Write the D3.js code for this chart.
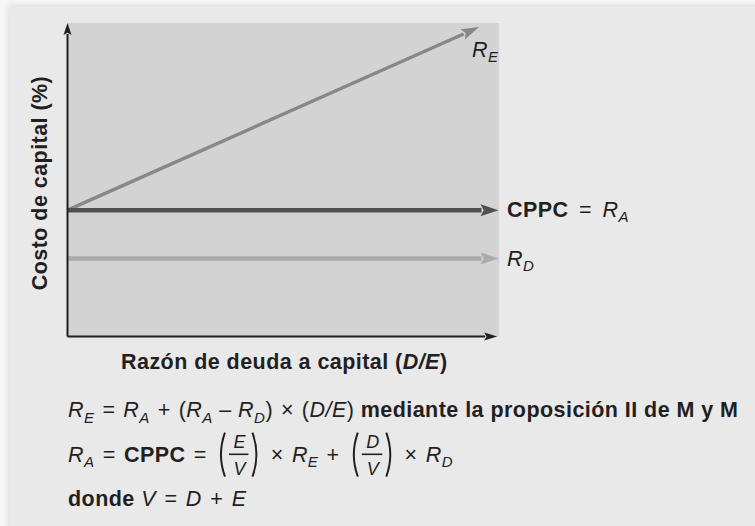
<!DOCTYPE html>
<html>
<head>
  <meta charset="utf-8">
  <script src="https://cdnjs.cloudflare.com/ajax/libs/d3/7.8.5/d3.min.js"></script>
  <style>
    body { margin: 0; background: #f6f6f6; }
    text { font-family: "Liberation Sans", Arial, sans-serif; fill: #231f20; white-space: pre; letter-spacing: 0.45px; }
  </style>
</head>
<body>
  <svg id="chart" width="755" height="526"></svg>
  <script>
    // conceptual units: D/E ratio on x, cost of capital on y
    const xDomain = [0, 10]
    const yDomain = [0, 10]
    const reValues = [[0, 4.03], [9.55, 9.87]]
    const raValues = [[0, 4.03], [10, 4.03]]
    const rdValues = [[0, 2.49], [10, 2.49]]

    const yTitle = "Costo de capital (%)"
    const xTitle = "Razón de deuda a capital ("
    const FS = 21.5

    const svg = d3.select("#chart")

    // panel with soft shadow on top/left
    const defs = svg.append("defs")
    const f = defs.append("filter").attr("id", "shadow").attr("x", "-5%").attr("y", "-5%").attr("width", "110%").attr("height", "110%")
    f.append("feDropShadow").attr("dx", -1).attr("dy", -1).attr("stdDeviation", 3)
      .attr("flood-color", "#000").attr("flood-opacity", 0.12)
    svg.append("rect").attr("x", 10).attr("y", 7).attr("width", 760).attr("height", 540)
      .attr("fill", "#e9e9e9").attr("filter", "url(#shadow)")

    const x = d3.scaleLinear().domain(xDomain).range([67.5, 498.5])
    const y = d3.scaleLinear().domain(yDomain).range([336.5, 23])

    svg.append("rect")
      .attr("x", x(0)).attr("y", y(10))
      .attr("width", x(10) - x(0) + 0.5).attr("height", y(0) - y(10))
      .attr("fill", "#d3d3d3")

    // line with arrowhead at its last point
    function arrowLine(pts, color, width, headLen, headHalf) {
      const x0 = x(pts[0][0]), y0 = y(pts[0][1])
      const x1 = x(pts[1][0]), y1 = y(pts[1][1])
      const ang = Math.atan2(y1 - y0, x1 - x0)
      const bx = x1 - headLen * Math.cos(ang), by = y1 - headLen * Math.sin(ang)
      svg.append("line")
        .attr("x1", x0).attr("y1", y0).attr("x2", bx + Math.cos(ang)).attr("y2", by + Math.sin(ang))
        .attr("stroke", color).attr("stroke-width", width)
      const nx = -Math.sin(ang) * headHalf, ny = Math.cos(ang) * headHalf
      svg.append("path")
        .attr("d", `M${x1},${y1}L${bx + nx},${by + ny}L${bx + headLen * 0.18 * Math.cos(ang)},${by + headLen * 0.18 * Math.sin(ang)}L${bx - nx},${by - ny}Z`)
        .attr("fill", color)
    }

    arrowLine(rdValues, "#aaaaaa", 4.5, 18, 6)
    arrowLine(reValues, "#888888", 3.5, 18, 5.5)
    arrowLine(raValues, "#505050", 4.5, 18, 6)

    // axes
    arrowLine([[0, 0], [0, 10]], "#231f20", 2, 12, 4)
    arrowLine([[0, 0], [9.97, 0]], "#231f20", 2, 13, 4)

    // text helpers
    const r = t => ({ t: t })
    const i = t => ({ t: t, i: true })
    const b = t => ({ t: t, b: true })
    const s = t => ({ t: t, i: true, sub: true })
    const op = (t, pad) => ({ t: t, pad: pad })

    function runs(px, py, list, size) {
      const t = svg.append("text").attr("x", px).attr("y", py).attr("font-size", size)
      let shift = 0, carry = 0, total = 0
      list.forEach(d => {
        const target = d.sub ? size * 0.26 : 0
        const dx = carry + (d.pad || 0)
        total += dx
        t.append("tspan")
          .attr("dx", dx)
          .attr("dy", target - shift)
          .attr("font-size", d.sub ? size * 0.7 : size)
          .attr("font-style", d.i ? "italic" : "normal")
          .attr("font-weight", d.b ? "bold" : "normal")
          .text(d.t)
        shift = target
        carry = d.pad || 0
      })
      return t.node().getComputedTextLength() + total + carry
    }

    function frac(px, py, num, den) {
      const size = 18
      const tn = svg.append("text").attr("y", py - 13.4).attr("font-size", size).attr("font-style", "italic").attr("text-anchor", "middle").text(num)
      const td = svg.append("text").attr("y", py + 13.6).attr("font-size", size).attr("font-style", "italic").attr("text-anchor", "middle").text(den)
      const w = Math.max(tn.node().getComputedTextLength(), td.node().getComputedTextLength()) + 7
      const top = py - 29, bot = py + 15, mid = (top + bot) / 2
      const lx = px + 4, bx = lx + 10, rx = bx + w + 10
      svg.append("path").attr("d", `M${lx + 6},${top}Q${lx - 2},${mid} ${lx + 6},${bot}`)
        .attr("fill", "none").attr("stroke", "#231f20").attr("stroke-width", 2)
      svg.append("path").attr("d", `M${rx - 6},${top}Q${rx + 2},${mid} ${rx - 6},${bot}`)
        .attr("fill", "none").attr("stroke", "#231f20").attr("stroke-width", 2)
      svg.append("line").attr("x1", bx).attr("x2", bx + w).attr("y1", py - 7.4).attr("y2", py - 7.4)
        .attr("stroke", "#231f20").attr("stroke-width", 1.6)
      tn.attr("x", bx + w / 2 + 1)
      td.attr("x", bx + w / 2 + 1)
      return rx + 4 - px
    }

    // line labels
    runs(472, 56.7, [i("R"), s("E")], FS)
    runs(507, 216.7, [b("CPPC"), op(" = ", 4), i("R"), s("A")], FS)
    runs(507, 265.7, [i("R"), s("D")], FS)

    // axis titles
    svg.append("text")
      .attr("transform", "translate(47,183) rotate(-90)")
      .attr("text-anchor", "middle").attr("font-size", FS).attr("font-weight", "bold")
      .text(yTitle)
    runs(121, 369.3, [b(xTitle), { t: "D/E", i: true, b: true }, b(")")], FS)

    // formulas
    runs(68, 417.3, [i("R"), s("E"), op(" = ", 1.5), i("R"), s("A"), op(" + ", 1.5), r("("), i("R"), s("A"), op(" \u2013 ", 0), i("R"), s("D"), r(")"), op(" \u00d7 ", 1.5), r("("), i("D/E"), r(") "), b("mediante la proposición II de M y M")], FS)

    let cx = 68
    const y2 = 461.7
    cx += runs(cx, y2, [i("R"), s("A"), op(" = ", 1.8), b("CPPC"), op(" = ", 1.8)], FS)
    cx += frac(cx, y2, "E", "V")
    cx += runs(cx, y2, [op(" \u00d7 ", 1.8), i("R"), s("E"), op(" + ", 1.8)], FS)
    cx += frac(cx, y2, "D", "V")
    runs(cx, y2, [op(" \u00d7 ", 1.8), i("R"), s("D")], FS)

    runs(68, 505.7, [b("donde "), i("V"), op(" = ", 2), i("D"), op(" + ", 2), i("E")], FS)
  </script>
</body>
</html>
